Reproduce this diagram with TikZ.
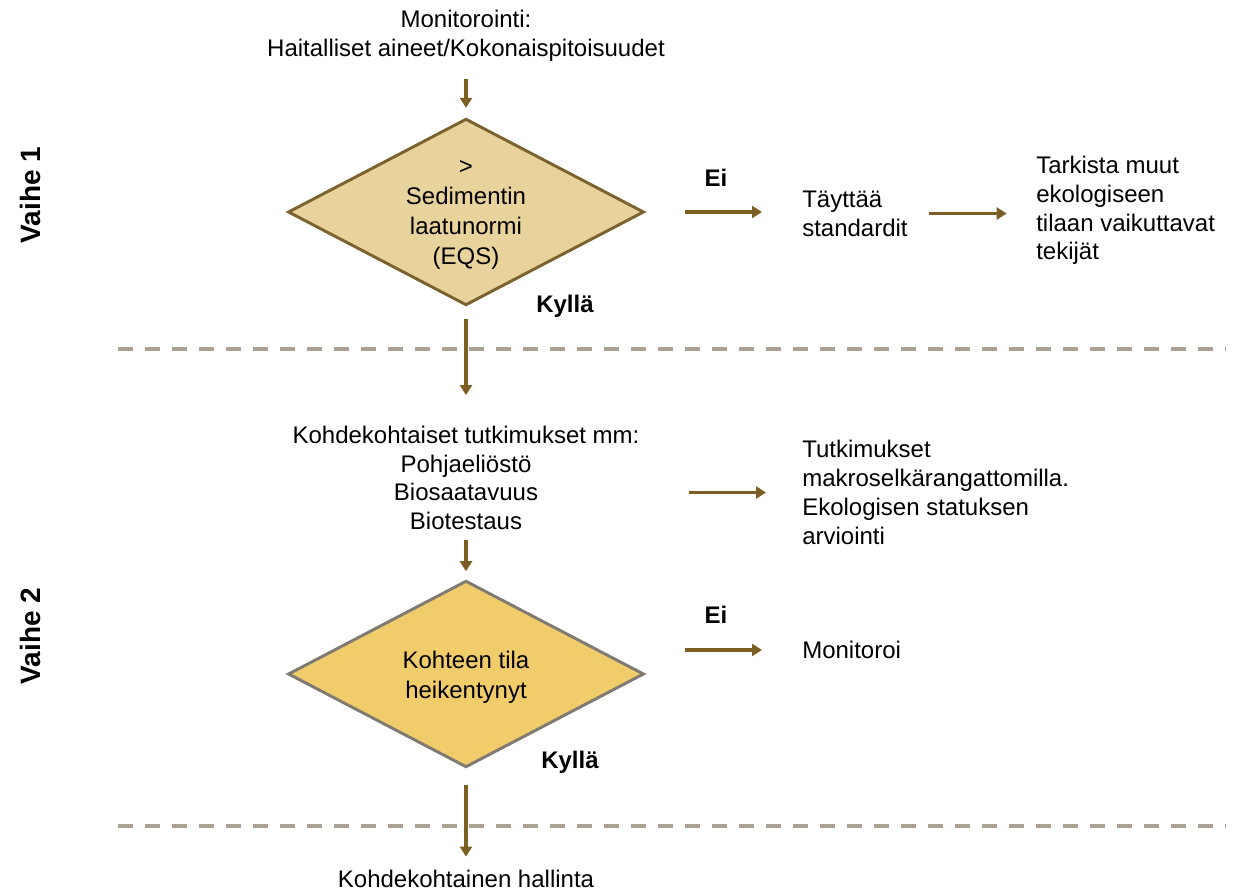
\documentclass[tikz,border=0pt]{standalone}
\usepackage{fontspec}
\setmainfont{Liberation Sans}
\usetikzlibrary{shapes.geometric,arrows.meta}
\definecolor{arrowbrown}{HTML}{7B5F24}
\definecolor{sandfill}{HTML}{E8D39C}
\definecolor{sandedge}{HTML}{7B6330}
\definecolor{goldfill}{HTML}{F1CC6A}
\definecolor{greyedge}{HTML}{7F7B72}
\definecolor{dashgrey}{HTML}{ABA293}
\tikzset{
  txt/.style={inner sep=0pt, font=\fontsize{18}{21.6}\selectfont},
  lefttxt/.style={txt, align=left, anchor=west},
  centertxt/.style={txt, align=center},
  answer/.style={inner sep=0pt, font=\fontsize{18}{21.6}\selectfont\bfseries},
  phase/.style={inner sep=0pt, rotate=90, font=\fontsize{21}{25}\selectfont\bfseries},
  decision/.style={diamond, inner sep=0pt, minimum width=267pt, minimum height=140pt,
    line width=2.2pt},
  inside/.style={inner sep=0pt, align=center, yshift=-2.5pt,
    font=\fontsize{18}{22.5}\selectfont},
  arr/.style={draw=arrowbrown, line width=2.5pt,
    -{Triangle[length=7.5pt,width=9pt]}},
  separator/.style={draw=dashgrey, line width=3pt, dash pattern=on 11.25pt off 9pt}
}
\begin{document}
\begin{tikzpicture}[x=0.75pt,y=-0.75pt]
\useasboundingbox (0,0) rectangle (1236,893);

% phase separators
\draw[separator] (118,349) -- (1226,349);
\draw[separator] (118,826) -- (1226,826);

% phase labels
\node[phase] (v1) at (30,195) {Vaihe 1};
\node[phase] (v2) at (30,636) {Vaihe 2};

% phase 1
\node[centertxt] (mon) at (466,36) {Monitorointi:\\Haitalliset aineet/Kokonaispitoisuudet};
\node[decision, fill=sandfill, draw=sandedge,
  label={[inside]center:{>\\Sedimentin\\laatunormi\\(EQS)}}] (d1) at (466,212) {};
\node[answer] (ei1) at (716,178) {Ei};
\node[answer] (kyl1) at (565,306) {Kyllä};
\node[lefttxt] (tay) at (802,213.5) {Täyttää\\standardit};
\node[lefttxt] (tark) at (1036,210.5) {Tarkista muut\\ekologiseen\\tilaan vaikuttavat\\tekijät};

% phase 2
\node[centertxt] (kt) at (466,478) {Kohdekohtaiset tutkimukset mm:\\Pohjaeliöstö\\Biosaatavuus\\Biotestaus};
\node[lefttxt] (tut) at (802,492.5) {Tutkimukset\\makroselkärangattomilla.\\Ekologisen statuksen\\arviointi};
\node[decision, fill=goldfill, draw=greyedge,
  label={[inside]center:{Kohteen tila\\heikentynyt}}] (d2) at (466,674) {};
\node[answer] (ei2) at (716,615) {Ei};
\node[answer] (kyl2) at (570,762) {Kyllä};
\node[lefttxt] (mon2) at (802,650) {Monitoroi};
\node[centertxt] (hal) at (466,879) {Kohdekohtainen hallinta};

% connectors
\draw[arr, shorten <=13pt, shorten >=7pt] (mon.south) -- (d1.north);
\draw[arr, shorten <=9pt, shorten >=23pt] (d1.south) -- (kt.north);
\draw[arr, shorten <=7pt, shorten >=6pt] (kt.south) -- (d2.north);
\draw[arr, shorten <=12pt, shorten >=10pt] (d2.south) -- (hal.north);
\draw[arr, shorten <=30pt, shorten >=30pt] (d1.east) -- (d1.east -| tay.west);
\draw[arr, shorten <=16pt, shorten >=22pt] (tay.east) -- (tay.east -| tark.west);
\draw[arr, shorten <=37pt, shorten >=27pt] (kt.east |- tut.west) -- (tut.west);
\draw[arr, shorten <=30pt, shorten >=30pt] (d2.east |- mon2.west) -- (mon2.west);
\end{tikzpicture}
\end{document}
